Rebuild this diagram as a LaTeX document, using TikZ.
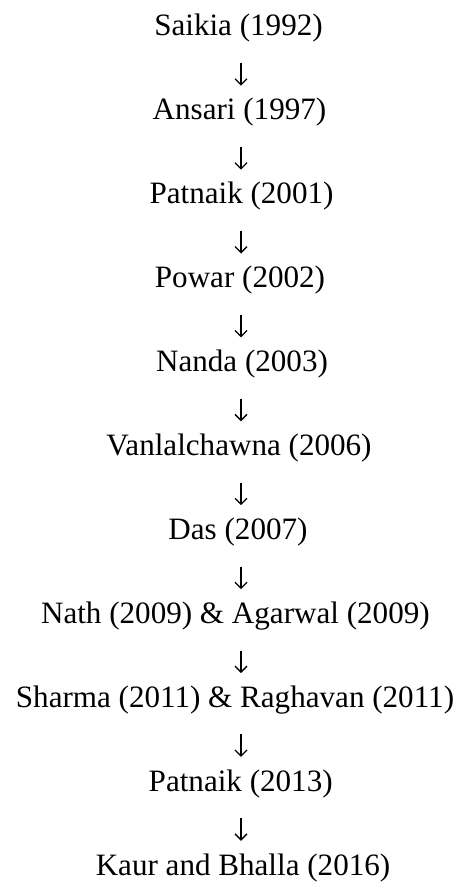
\documentclass[tikz,border=0pt]{standalone}
\usepackage{fontspec}
\setmainfont{Liberation Serif}
\usetikzlibrary{arrows.meta}
\tikzset{
  entry/.style={anchor=base, inner sep=0pt, text height=20pt, text depth=0pt,
    font=\fontsize{31.1}{37}\selectfont},
  conn/.style={line width=1.3pt, -{Straight Barb[length=6pt,width=12pt]},
    shorten <=27pt, shorten >=14pt}
}
\begin{document}
\begin{tikzpicture}[x=1pt,y=-1pt]
\useasboundingbox (0,0) rectangle (471,888);
\coordinate (ax) at (241,0);
\node[entry] (n0)  at (238.5,36.0)  {Saikia (1992)};
\node[entry] (n1)  at (239.5,119.9) {Ansari (1997)};
\node[entry] (n2)  at (241.5,203.8) {Patnaik (2001)};
\node[entry] (n3)  at (240,287.7)   {Powar (2002)};
\node[entry] (n4)  at (242,371.6)   {Nanda (2003)};
\node[entry] (n5)  at (239,455.5)   {Vanlalchawna (2006)};
\node[entry] (n6)  at (238,539.4)   {Das (2007)};
\node[entry] (n7)  at (235.4,623.3) {Nath (2009) \& Agarwal (2009)};
\node[entry] (n8)  at (235,707.2)   {Sharma (2011) \& Raghavan (2011)};
\node[entry] (n9)  at (240.7,791.1) {Patnaik (2013)};
\node[entry] (n10) at (243,875.0)   {Kaur and Bhalla (2016)};
\foreach \a/\b in {n0/n1,n1/n2,n2/n3,n3/n4,n4/n5,n5/n6,n6/n7,n7/n8,n8/n9,n9/n10}
  \draw[conn] (\a.south -| ax) -- (\b.north -| ax);
\end{tikzpicture}
\end{document}
